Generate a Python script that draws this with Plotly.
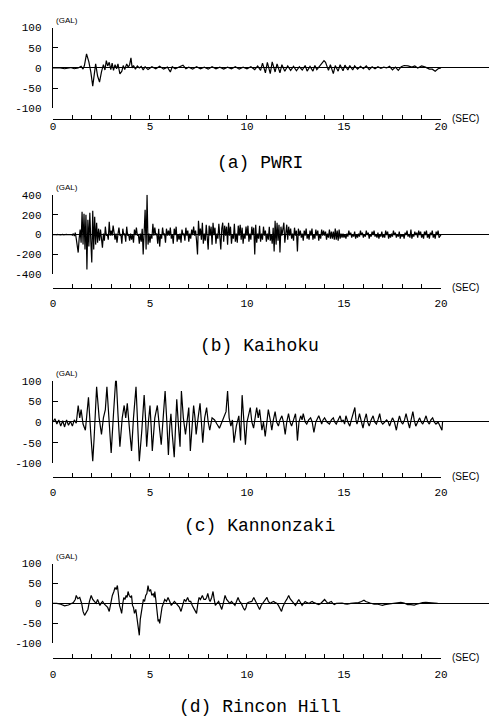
import plotly.graph_objects as go

W, H = 496, 726

# ---------------- data ----------------
# (a) PWRI : time (s) / acceleration (gal)
PWRI_T = [0, 0.3, 0.6, 0.9, 1.1, 1.3, 1.45, 1.55, 1.62, 1.73, 1.85, 1.95, 2.05, 2.15, 2.2, 2.3,
          2.4, 2.5, 2.6, 2.68, 2.75, 2.82, 2.9, 2.98, 3.05, 3.12, 3.2, 3.28, 3.35, 3.45, 3.55,
          3.62, 3.7, 3.8, 3.88, 3.95, 4.02, 4.08, 4.15, 4.25, 4.35, 4.45, 4.55, 4.65, 4.75,
          4.9, 5.1, 5.3, 5.5, 5.7, 5.9, 6.05, 6.15, 6.3, 6.5, 6.7, 6.85, 7.0, 7.2, 7.4, 7.6,
          7.8, 8.0, 8.2, 8.4, 8.6, 8.8, 9.0, 9.2, 9.4, 9.6, 9.8, 10.0, 10.2, 10.4, 10.55,
          10.7, 10.8, 10.95, 11.05, 11.2, 11.3, 11.45, 11.55, 11.7, 11.8, 11.95, 12.1, 12.25,
          12.4, 12.55, 12.7, 12.85, 13.0, 13.1, 13.25, 13.4, 13.5, 13.6, 13.75, 13.85, 13.97,
          14.05, 14.2, 14.3, 14.45, 14.55, 14.7, 14.8, 14.95, 15.05, 15.2, 15.3, 15.45, 15.55,
          15.7, 15.85, 16.0, 16.15, 16.3, 16.45, 16.6, 16.75, 16.9, 17.05, 17.2, 17.35, 17.5,
          17.65, 17.8, 17.95, 18.1, 18.3, 18.5, 18.65, 18.8, 19.0, 19.2, 19.4, 19.55, 19.7,
          19.85, 20.0]
PWRI_A = [0, 1, -2, 1, -2, 0, 4, -3, 6, 35, 15, -10, -45, -5, 10, -20,
          -35, -10, 8, -5, 18, 5, 14, -4, 12, -6, 8, -2, 10, -15, -8,
          6, -4, 10, 2, 8, 25, 0, 6, -3, 5, 0, 4, -5, 3,
          -4, 3, -2, 4, -3, 2, -10, 3, -2, 3, 7, -2, 2, -3, 3, -2,
          2, -3, 3, -2, 2, -3, 2, -2, 3, -3, 2, -2, 3, -4, 5,
          -6, 12, -12, 14, -14, 15, -10, 10, -12, 8, -8, 5, -6,
          4, -7, 3, -5, 6, -8, 4, -8, 6, -4, 6, 10, 18,
          14, -6, 8, -14, 6, -8, 8, -7, 7, -5, 6, -5, 5,
          -3, 4, -2, 5, -4, 3, -2, 3, -1, 2, 0, 4, -5,
          2, -6, 3, 6, 5, 2, 5, 0, 5, 2, -3, -3, -8,
          -2, 0]

# (b) Kaihoku : sampled every KAIHOKU_DT seconds, 20 values per second
KAIHOKU_DT = 0.05
KAIHOKU_A = [
    0, 2, -3, 1, -2, 3, -1, 2, -2, 0, 3, -2, 1, -3, 2, -1, 0, 2, -2, 1,
    -5, 10, -15, 20, -40, -150, -180, -40, 50, -80, 230, -100, 210, -150, 200, -350, 150, -120, 220, -60,
    -280, 240, -150, 180, -100, 120, -80, 60, -60, 50, -90, -130, 10, -60, 80, -10, 5, -50, 130, -10,
    40, -10, 90, 5, -50, 10, -80, 5, 70, -10, 5, -90, 60, -5, 10, -70, 80, -10, 5, -60,
    10, -50, 5, -80, 50, -5, 70, -10, 5, -90, 10, -70, 60, -200, 120, 250, -150, 400, -100, 10,
    -80, 5, -40, 110, -10, 70, -5, 10, -90, 60, -120, 5, -40, 70, -5, 10, -80, 60, -10, 40,
    -10, 70, -40, 5, -90, 60, -5, 80, -70, 5, -50, 10, -80, 50, -5, 10, -60, 70, -10, 40,
    -70, 10, -40, 50, -5, 80, -10, 40, -60, -200, 140, -10, 60, -50, 120, -90, 10, -60, 100, -10,
    -150, 90, -10, 80, -100, 120, -5, 70, -90, 10, -40, 110, -80, -150, 60, 120, -70, 90, -10, 80,
    -100, 120, -10, 80, -90, 5, -40, 110, -70, 10, -80, 90, -10, 100, -50, 70, -90, 10, -40, 80,
    -10, 90, -70, 10, -50, 80, -5, 70, -200, 100, -80, 10, -40, 90, -70, 10, -50, 80, -10, 40,
    -70, 10, -50, 80, -60, 5, -90, 70, -170, 140, -100, 120, -60, 100, -180, 80, -10, 60, 120, -80,
    -10, 100, -50, 80, -10, 60, -40, 10, -60, 70, -10, 40, -170, 60, -10, 40, -30, 10, -60, 40,
    -10, 60, -40, 5, -50, 40, -10, 60, -50, 5, -40, 50, -10, 40, -60, 5, -40, 50, -10, 40,
    -10, 30, -50, 10, -30, 50, -40, 30, -40, 30, -50, 60, -50, 40, -60, 50, -40, 10, -30, 10,
    -30, 5, -40, 10, -20, 40, -5, 20, -30, 5, -20, 30, -40, 5, -30, 10, -20, 40, -5, 20,
    -30, 5, -20, 40, -5, 20, -40, 5, -20, 30, -5, 40, -20, 5, -30, 20, -40, 5, -20, 30,
    -30, 5, -30, 40, -5, 30, -40, 5, -30, 10, -20, 40, -5, 20, -30, 5, -20, 30, -40, 5,
    -20, 5, -40, 20, -5, 40, -20, 5, -30, 50, -40, 5, -20, 30, -5, 20, -30, 40, -5, 30,
    -30, 5, -40, 30, -5, 40, -30, 5, -40, 20, -5, 40, -30, 5, -40, 30, -5, 40, -30, -20,
    0,
]

# (c) Kannonzaki
KANNON_T = [0, 0.1, 0.2, 0.3, 0.4, 0.5, 0.6, 0.7, 0.8, 0.9, 1.0, 1.1, 1.2, 1.3, 1.38, 1.45,
            1.55, 1.67, 1.75, 1.83, 1.95, 2.05, 2.12, 2.25, 2.38, 2.5, 2.6, 2.7, 2.78, 2.88,
            3.0, 3.12, 3.25, 3.35, 3.45, 3.57, 3.67, 3.75, 3.83, 3.93, 4.05, 4.15, 4.28, 4.36,
            4.45, 4.58, 4.7, 4.77, 4.83, 4.92, 5.0, 5.06, 5.12, 5.25, 5.38, 5.48, 5.58, 5.68,
            5.78, 5.87, 5.95, 6.02, 6.08, 6.15, 6.25, 6.32, 6.38, 6.47, 6.55, 6.62, 6.72, 6.83,
            6.92, 7.0, 7.08, 7.17, 7.25, 7.32, 7.38, 7.48, 7.58, 7.65, 7.72, 7.82, 7.92, 8.0,
            8.08, 8.2, 8.33, 8.45, 8.58, 8.75, 8.92, 9.0, 9.08, 9.17, 9.25, 9.33, 9.45, 9.58,
            9.67, 9.75, 9.83, 9.92, 10.0, 10.08, 10.17, 10.25, 10.34, 10.42, 10.5, 10.58, 10.65,
            10.77, 10.85, 10.94, 11.02, 11.1, 11.2, 11.28, 11.36, 11.45, 11.53, 11.62, 11.7,
            11.8, 11.88, 11.97, 12.05, 12.14, 12.22, 12.3, 12.4, 12.5, 12.55, 12.6, 12.68,
            12.77, 12.84, 12.9, 13.0, 13.08, 13.18, 13.28, 13.36, 13.45, 13.55, 13.7, 13.78,
            13.85, 13.92, 14.0, 14.12, 14.25, 14.35, 14.45, 14.52, 14.6, 14.7, 14.8, 14.88,
            14.96, 15.03, 15.1, 15.2, 15.3, 15.38, 15.47, 15.56, 15.62, 15.67, 15.73, 15.8,
            15.9, 15.98, 16.06, 16.15, 16.22, 16.3, 16.4, 16.5, 16.58, 16.67, 16.75, 16.84,
            16.92, 17.0, 17.1, 17.2, 17.28, 17.35, 17.42, 17.5, 17.6, 17.7, 17.78, 17.86,
            17.95, 18.03, 18.12, 18.2, 18.3, 18.38, 18.46, 18.55, 18.62, 18.7, 18.8, 18.9,
            18.98, 19.06, 19.15, 19.23, 19.32, 19.4, 19.48, 19.57, 19.65, 19.74, 19.85, 19.95,
            20.05, 20.08]
KANNON_A = [0, 8, -5, 5, -10, 3, -12, 5, -8, 2, -10, 5, -3, 40, 10, 30,
            -5, -20, 20, 60, -30, -95, -40, 85, 10, -30, 10, 30, 85, 20,
            -75, 20, 115, 20, -60, 10, 40, 10, 45, -10, -70, 10, 85, 0,
            -95, -20, 65, 10, -60, 0, 40, -10, -70, 10, 40, -10, -55, 10,
            75, 0, -80, -10, 20, -30, -85, -10, 55, -10, -60, 75, 10, -30,
            10, 35, -70, 0, 40, 10, -30, 10, 45, 0, -50, 10, 35, 0,
            -20, 10, 5, -5, -15, 5, 25, 75, 10, -10, 5, -50, -10, 15,
            -45, 65, 0, -55, 0, 20, 35, 0, -15, 10, 35, 10, 30,
            -20, 0, -35, 0, 30, 5, -20, 5, 25, 0, -10, 5,
            15, 0, -30, 0, 20, 0, -10, 5, 20, -5, -45, 0,
            15, 5, 20, 0, -5, 5, 10, 0, -25, 0, 15, 5,
            -5, 5, 10, 0, -5, 5, 10, 0, -5, 5, 15, 0,
            5, -5, 15, 0, -10, 5, 20, 35, 5, -5, 5, 20,
            0, -15, 5, 20, 0, -10, 5, 15, 0, -5, 5, 20,
            0, -5, 0, 5, 0, -10, 0, 10, 0, -20, 0, 15,
            0, -5, 5, 20, 0, -15, 5, 25, 5, -10, 0, 10,
            0, -5, 5, 15, 0, -5, 5, 10, 0, -5, 0, -10,
            -20, 0]

# (d) Rincon Hill
RINCON_T = [0, 0.2, 0.4, 0.6, 0.8, 0.95, 1.05, 1.15, 1.2, 1.28, 1.38, 1.48, 1.55, 1.63, 1.72,
            1.8, 1.88, 1.97, 2.05, 2.14, 2.22, 2.3, 2.36, 2.42, 2.5, 2.56, 2.65, 2.73, 2.82,
            2.9, 2.98, 3.06, 3.14, 3.2, 3.26, 3.32, 3.38, 3.43, 3.49, 3.54, 3.6, 3.65, 3.71,
            3.77, 3.82, 3.87, 3.93, 4.0, 4.05, 4.1, 4.15, 4.2, 4.27, 4.33, 4.38, 4.45, 4.5,
            4.55, 4.6, 4.66, 4.72, 4.78, 4.84, 4.9, 4.96, 5.03, 5.1, 5.17, 5.22, 5.25, 5.3,
            5.34, 5.38, 5.42, 5.46, 5.5, 5.56, 5.62, 5.69, 5.76, 5.85, 5.93, 6.02, 6.1, 6.18,
            6.26, 6.35, 6.43, 6.52, 6.6, 6.68, 6.77, 6.85, 6.94, 7.02, 7.1, 7.18, 7.27, 7.34,
            7.4, 7.47, 7.53, 7.6, 7.7, 7.78, 7.86, 7.92, 7.98, 8.05, 8.1, 8.18, 8.25, 8.31,
            8.37, 8.45, 8.54, 8.62, 8.7, 8.78, 8.87, 8.95, 9.04, 9.12, 9.2, 9.3, 9.38, 9.46,
            9.54, 9.62, 9.71, 9.8, 9.88, 9.95, 10.0, 10.08, 10.17, 10.25, 10.35, 10.43, 10.52,
            10.58, 10.65, 10.73, 10.8, 10.86, 10.95, 11.03, 11.1, 11.2, 11.28, 11.38, 11.46,
            11.55, 11.62, 11.7, 11.78, 11.85, 11.92, 11.98, 12.05, 12.1, 12.15, 12.22, 12.28,
            12.33, 12.42, 12.5, 12.58, 12.67, 12.75, 12.84, 12.92, 13.0, 13.1, 13.2, 13.28,
            13.36, 13.45, 13.53, 13.62, 13.7, 13.8, 13.9, 14.0, 14.08, 14.17, 14.26, 14.35,
            14.42, 14.5, 14.6, 14.74, 14.9, 15.05, 15.17, 15.35, 15.5, 15.6, 15.75, 15.9,
            16.03, 16.12, 16.2, 16.35, 16.55, 16.75, 16.9, 16.98, 17.1, 17.25, 17.4, 17.6,
            17.75, 17.93, 18.1, 18.28, 18.45, 18.62, 18.75, 18.88, 19.05, 19.22, 19.4, 19.6,
            19.83]
RINCON_A = [0, 0, -2, -6, -4, 0, 2, 10, 20, 12, 15, 0, -20, -30, -22,
            -15, 5, 20, 10, 5, 0, 10, 3, -5, 2, 5, -2, -5, -10,
            -20, 0, 20, 30, 40, 35, 45, 20, -5, -15, -25, 0, 15, 10,
            20, 15, 30, 20, 15, 20, -5, -10, -25, -15, -40, -50, -80, -40,
            -20, 0, 10, 5, 20, 25, 45, 30, 35, 20, 25, 15, 30, 10,
            -10, -30, -45, -40, -50, -30, -10, 0, 10, 5, 15, 5, -5, 0,
            5, 0, -5, -10, -20, -5, 10, 5, 15, 5, 5, -5, -15, -20,
            -25, 0, 15, 10, 20, 10, 10, 15, 25, 10, 5, 15, 30, 10,
            -5, 0, 5, -5, -15, 0, 20, 10, 5, 0, 5, 0, -5, 5,
            15, 5, 0, -10, -17, -10, 0, 3, 5, 5, 15, 8, 0,
            -8, -15, -5, 0, 5, 10, 15, 5, 0, 3, 5, 2,
            0, -5, -12, -20, -8, 0, 5, 10, 15, 20, 12, 8,
            5, 0, -5, 2, 10, 3, -5, 0, 5, 2, 0, 3,
            5, 2, 0, -2, -3, 0, 5, 10, 5, 0, 3, 5,
            0, -3, 0, 0, 1, -1, -2, 0, 1, 0, 2, 5,
            8, 5, 3, 1, -2, -2, -4, -5, -3, -2, -2, 0,
            2, 3, 1, -3, -3, -4, -2, 0, 2, 3, 2, 1,
            0]

PANEL_TITLES = ["(a) PWRI", "(b) Kaihoku", "(c) Kannonzaki", "(d) Rincon Hill"]
Y_TICKVALS = [[-100, -50, 0, 50, 100], [-400, -200, 0, 200, 400],
              [-100, -50, 0, 50, 100], [-100, -50, 0, 50, 100]]
Y_TICKTEXT = [["-100", "-50", "0", "50", "100"], ["-400", "-200", "0", "200", "400"],
              ["-100", "-50", "0", "50", "100"], ["-100", "-50", "0", "50", "100"]]
X_TICKVALS = list(range(0, 21))
X_TICKTEXT = ["0", "", "", "", "", "5", "", "", "", "", "10", "", "", "", "", "15",
              "", "", "", "", "20"]
Y_UNIT = "(GAL)"
X_UNIT = "(SEC)"

kaihoku_t = [i * KAIHOKU_DT for i in range(len(KAIHOKU_A))]
SERIES = [(PWRI_T, PWRI_A), (kaihoku_t, KAIHOKU_A), (KANNON_T, KANNON_A), (RINCON_T, RINCON_A)]

# ---------------- layout geometry (pixels) ----------------
X0_PX, X20_PX = 51, 447
PX_PER_S = (X20_PX - X0_PX) / 20.0
T_RIGHT = (W - X0_PX) / PX_PER_S
GEOM = [
    dict(top=23, bot=105, xax=116, lab=161, xstand=-3),
    dict(top=193, bot=274, xax=288, lab=347, xstand=4),
    dict(top=382, bot=466, xax=480, lab=530, xstand=5),
    dict(top=568, bot=649, xax=664, lab=714, xstand=6),
]


def px(x):
    return x / W


def py(y):
    return 1 - y / H


TICKFONT = dict(family="Liberation Mono", size=11, color="black")
fig = go.Figure()
layout = dict(
    width=W, height=H, margin=dict(l=0, r=0, t=0, b=0, pad=0),
    paper_bgcolor="white", plot_bgcolor="rgba(0,0,0,0)", showlegend=False,
    hovermode=False, annotations=[], font=dict(color="black"),
)

for i, ((t, a), g) in enumerate(zip(SERIES, GEOM)):
    xa = 2 * i + 1
    xb = 2 * i + 2
    ya = i + 1
    ymax = max(abs(v) for v in Y_TICKVALS[i])
    fig.add_trace(go.Scatter(x=t, y=a, mode="lines", line=dict(color="black", width=1.2),
                             xaxis=f"x{xa}", yaxis=f"y{ya}"))
    fig.add_trace(go.Scatter(x=[0, 20], y=[None, None], mode="lines",
                             xaxis=f"x{xb}", yaxis=f"y{ya}"))
    layout[f"xaxis{xa}"] = dict(domain=[px(X0_PX), 1], range=[0, T_RIGHT], anchor=f"y{ya}",
                                visible=False, showgrid=False, zeroline=False)
    layout[f"yaxis{ya}"] = dict(domain=[py(g["bot"]), py(g["top"])], range=[-ymax, ymax],
                                anchor=f"x{xa}", showgrid=False, zeroline=True,
                                zerolinecolor="black", zerolinewidth=1,
                                showline=True, linecolor="black", linewidth=1.4,
                                ticks="inside", ticklen=5, tickwidth=1.2, tickcolor="black",
                                tickvals=Y_TICKVALS[i], ticktext=Y_TICKTEXT[i],
                                tickfont=TICKFONT, ticklabelstandoff=8)
    layout[f"xaxis{xb}"] = dict(domain=[px(X0_PX), px(X20_PX)], range=[0, 20],
                                anchor="free", position=py(g["xax"]),
                                showgrid=False, zeroline=False, showline=True,
                                linecolor="black", linewidth=1.4, ticks="inside",
                                ticklen=4, tickwidth=1.2, tickcolor="black",
                                tickvals=X_TICKVALS, ticktext=X_TICKTEXT,
                                tickfont=TICKFONT, ticklabelstandoff=g["xstand"])
    layout["annotations"].append(dict(
        text=Y_UNIT, x=px(X0_PX + 1), y=py(g["top"] - 7), xref="paper", yref="paper",
        xanchor="left", yanchor="middle", showarrow=False,
        font=dict(family="Liberation Sans", size=8, color="black")))
    layout["annotations"].append(dict(
        text=X_UNIT, x=px(X20_PX + 9), y=py(g["xax"] - 1), xref="paper", yref="paper",
        xanchor="left", yanchor="middle", showarrow=False,
        font=dict(family="Liberation Sans", size=10, color="black")))
    layout["annotations"].append(dict(
        text=PANEL_TITLES[i], x=px(262), y=py(g["lab"]), xref="paper", yref="paper",
        xanchor="center", yanchor="middle", showarrow=False,
        font=dict(family="Liberation Mono", size=18, color="black")))

fig.update_layout(**layout)
fig.write_html("out.html", config={"displayModeBar": False},
               post_script="document.body.style.margin='0px';")
